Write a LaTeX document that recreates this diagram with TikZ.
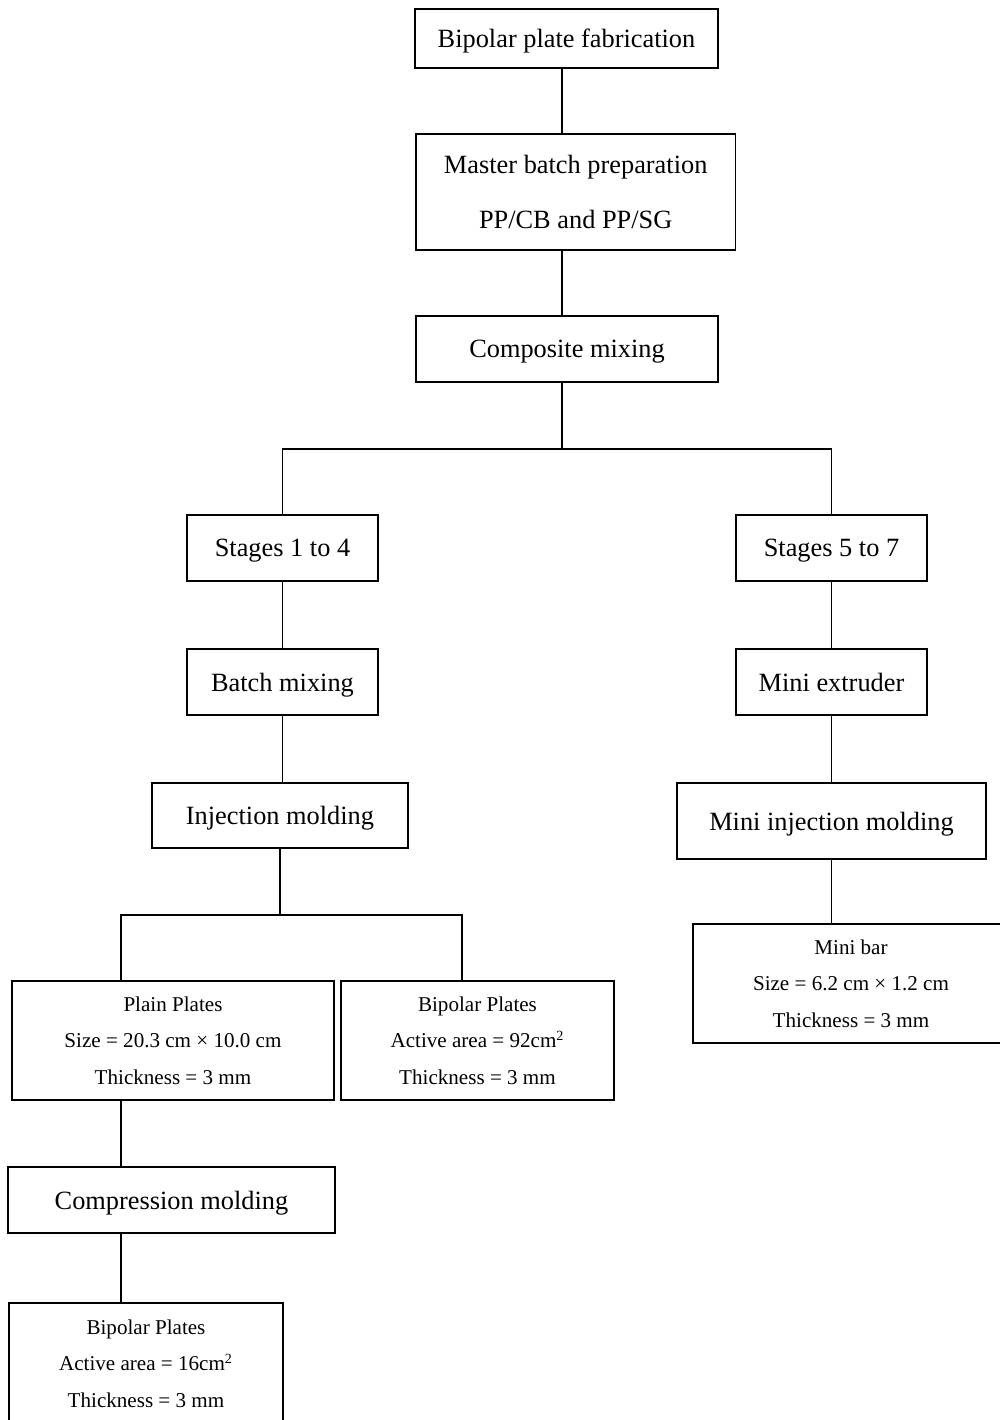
\documentclass[tikz,border=0pt]{standalone}
\usepackage{fontspec}
\setmainfont{Liberation Serif}
\usetikzlibrary{positioning}

\tikzset{
  stepbox/.style={draw, line width=0.9pt, inner sep=0pt, align=center,
    text depth=0pt, font=\fontsize{15}{31}\selectfont},
  infobox/.style={stepbox, font=\fontsize{12}{20.8}\selectfont},
  link/.style={line width=0.9pt}
}

\begin{document}
\begin{tikzpicture}[x=0.02cm, y=-0.02cm]
\clip (0,0) rectangle (1000,1420);

% main chain
\node at (566.5,38.5) (fab) [stepbox, minimum width=6.06cm, minimum height=1.18cm]
{Bipolar plate fabrication};

\node at (575.7,192) (master) [stepbox, minimum width=6.4cm, minimum height=2.32cm]
{Master batch preparation\\PP/CB and PP/SG};

\node at (567,349) (mix) [stepbox, minimum width=6.04cm, minimum height=1.32cm]
{Composite mixing};

% left branch
\node at (282.5,548) (stageA) [stepbox, minimum width=3.82cm, minimum height=1.32cm]
{Stages 1 to 4};

\node at (282.5,682) (batch) [stepbox, minimum width=3.82cm, minimum height=1.32cm]
{Batch mixing};

\node at (280,815.5) (inject) [stepbox, minimum width=5.12cm, minimum height=1.3cm]
{Injection molding};

\node at (173,1040.5) (plain) [infobox, minimum width=6.44cm, minimum height=2.38cm]
{Plain Plates\\Size = 20.3 cm × 10.0 cm\\Thickness = 3 mm};

\node at (477.5,1040.5) (bipolar) [infobox, minimum width=5.46cm, minimum height=2.38cm]
{Bipolar Plates\\Active area = 92cm\textsuperscript{2}\\Thickness = 3 mm};

\node at (171.5,1200) (press) [stepbox, minimum width=6.54cm, minimum height=1.32cm]
{Compression molding};

\node at (146,1363.5) (bipolarsmall) [infobox, minimum width=5.48cm, minimum height=2.42cm]
{Bipolar Plates\\Active area = 16cm\textsuperscript{2}\\Thickness = 3 mm};

% right branch
\node at (831.5,548) (stageB) [stepbox, minimum width=3.82cm, minimum height=1.32cm]
{Stages 5 to 7};

\node at (831.5,682) (extruder) [stepbox, minimum width=3.82cm, minimum height=1.32cm]
{Mini extruder};

\node at (831.5,821) (miniinject) [stepbox, minimum width=6.18cm, minimum height=1.52cm]
{Mini injection molding};

\node at (851,983.5) (minibar) [infobox, minimum width=6.32cm, minimum height=2.38cm]
{Mini bar\\Size = 6.2 cm × 1.2 cm\\Thickness = 3 mm};

% connectors
\coordinate (spine) at ([xshift=-0.09cm]fab.south);
\draw[link] (spine) -- (spine |- master.north);
\draw[link] (spine |- master.south) -- (spine |- mix.north);
\draw[link] (spine |- mix.south) -- ++(0,66) coordinate (fork);
\draw[link] (stageA) |- (fork) -| (stageB);

\draw[link] (stageA) -- (batch);
\draw[link] (batch.south) -- (batch.south |- inject.north);
\draw[link] (inject.south) -- ++(0,66) coordinate (split);
\draw[link] ([xshift=-1.04cm]plain.north) |- (split) -| ([xshift=-0.31cm]bipolar.north);

\coordinate (trunk) at ([xshift=-1.04cm]plain.south);
\draw[link] (trunk) -- (trunk |- press.north);
\draw[link] (trunk |- press.south) -- (trunk |- bipolarsmall.north);

\draw[link] (stageB) -- (extruder);
\draw[link] (extruder) -- (miniinject);
\draw[link] (miniinject) -- (miniinject |- minibar.north);
\end{tikzpicture}
\end{document}
